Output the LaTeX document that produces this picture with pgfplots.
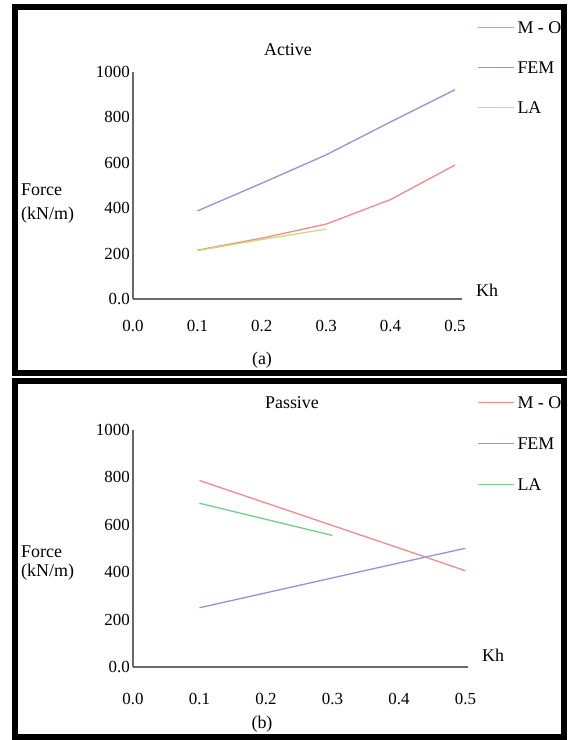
\documentclass[border=0pt]{standalone}
\usepackage{fontspec}
\setmainfont{Liberation Serif}
\usepackage{pgfplots}
\pgfplotsset{compat=1.18}

\definecolor{moRed}{RGB}{240,140,140}
\definecolor{femBlue}{RGB}{140,152,214}
\definecolor{laLime}{RGB}{200,222,120}
\definecolor{laGreen}{RGB}{120,205,140}
\definecolor{axGray}{RGB}{105,105,105}

\pgfplotsset{
  panel/.style={
    scale only axis,
    axis x line=bottom, axis y line=left,
    axis line style={-, axGray, line width=1.6bp},
    xmin=0, ymin=0, ymax=1000,
    major tick length=0pt,
    xtick={0,0.1,0.2,0.3,0.4,0.5},
    xticklabels={0.0,0.1,0.2,0.3,0.4,0.5},
    ytick={0,200,400,600,800,1000},
    yticklabels={0.0,200,400,600,800,1000},
    tick label style={font=\fontsize{17}{17}\selectfont},
    yticklabel style={anchor=east, inner sep=0pt, xshift=-3bp},
    legend cell align=left,
    legend image code/.code={\draw[#1] (0bp,0bp) -- (36bp,0bp);},
    legend style={draw=none, fill=none, inner sep=0pt, column sep=3bp,
      anchor=north west, font=\fontsize{18}{18}\selectfont,
      nodes={inner sep=0pt, text height=13bp, text depth=0pt}},
    every axis plot/.append style={line width=1.3bp},
  }
}

\begin{document}
\begin{tikzpicture}[font=\fontsize{18}{22}\selectfont]
\path[fill=white] (0bp,0bp) rectangle (569bp,740bp);

% (a) active
\begin{axis}[panel, at={(133bp,441bp)}, anchor=south west,
    width=329bp, height=227bp, xmax=0.511,
    xticklabel style={anchor=center, yshift=-27bp},
    legend style={at={(1.0456,1.227)}, row sep=27bp}]
\addplot[moRed] coordinates {(0.1,215) (0.2,268) (0.3,330) (0.4,438) (0.5,590)};
\addlegendentry{M - O}
\addplot[femBlue] coordinates {(0.1,388) (0.2,510) (0.3,635) (0.4,780) (0.5,922)};
\addlegendentry{FEM}
\addplot[laLime] coordinates {(0.1,213) (0.2,262) (0.3,308)};
\addlegendentry{LA}
\end{axis}

% (b) passive
\begin{axis}[panel, at={(133bp,73bp)}, anchor=south west,
    width=335bp, height=237bp, xmax=0.5038,
    xticklabel style={anchor=center, yshift=-32bp},
    legend style={at={(1.0269,1.1456)}, row sep=28bp}]
\addplot[moRed] coordinates {(0.1,787) (0.2,692) (0.3,597) (0.4,502) (0.5,406)};
\addlegendentry{M - O}
\addplot[femBlue] coordinates {(0.1,250) (0.2,313) (0.3,376) (0.4,439) (0.5,501)};
\addlegendentry{FEM}
\addplot[laGreen] coordinates {(0.1,691) (0.2,623) (0.3,555)};
\addlegendentry{LA}
\end{axis}

\begin{scope}[x=1bp, y=1bp, every node/.style={inner sep=0pt}]
\node at (288,690) {Active};
\node[anchor=west] at (476,450) {Kh};
\node[anchor=west] at (21,550) {Force};
\node[anchor=west] at (21,525) {(kN/m)};
\node at (262,380) {(a)};

\node at (292,337) {Passive};
\node[anchor=west] at (482,85) {Kh};
\node[anchor=west] at (21,188) {Force};
\node[anchor=west] at (21,168) {(kN/m)};
\node at (262,16) {(b)};

\draw[line width=6bp] (15,367) rectangle (564,733);
\draw[line width=6bp] (15,3) rectangle (564,359);
\end{scope}
\end{tikzpicture}
\end{document}
